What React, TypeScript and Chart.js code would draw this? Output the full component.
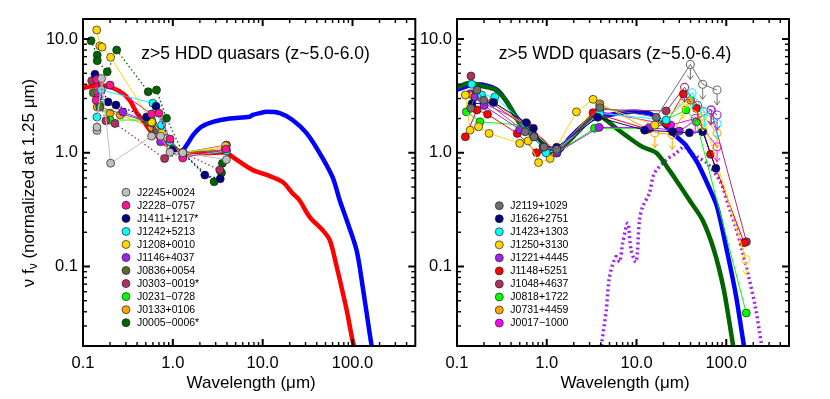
import { useEffect, useRef } from 'react';
import { Chart, registerables } from 'chart.js';

Chart.register(...registerables);

const FONT = '"Liberation Sans", Arial, Helvetica, sans-serif';

// ---- axes ----
const X_TICKS = [0.1, 1, 10, 100];
const X_TICK_LABELS = ['0.1', '1.0', '10.0', '100.0'];
const Y_TICKS = [0.1, 1, 10];
const Y_TICK_LABELS = ['0.1', '1.0', '10.0'];
const X_MIN = 0.1;
const X_MAX = 500;
const Y_MIN = 0.02;
const Y_MAX = 15;

// ---- left panel (HDD) models: [wavelength um, nu f_nu] ----
const HDD_RED_MODEL = [
  [0.1, 3.71], [0.12, 3.82], [0.155, 3.94], [0.215, 3.71], [0.28, 3.3], [0.33, 2.9], [0.4, 2.22],
  [0.47, 1.9], [0.555, 1.58], [0.66, 1.4], [0.86, 1.17], [1.1, 1.05], [1.25, 1.0], [2.0, 0.99],
  [3.0, 1.0], [3.97, 1.0], [4.65, 0.917], [7.74, 0.705], [11.1, 0.638], [16.7, 0.553], [21.5, 0.44],
  [25.6, 0.384], [33.4, 0.272], [46.4, 0.209], [55.8, 0.171], [66.8, 0.099], [86.1, 0.0414],
  [100, 0.0225], [108, 0.0184],
];
const HDD_BLUE_MODEL = [
  [1.25, 1.0], [1.47, 1.21], [1.68, 1.43], [2.07, 1.69], [2.8, 1.87], [4.3, 2.0], [7.17, 2.07],
  [7.74, 2.15], [9.3, 2.23], [11.1, 2.29], [15.5, 2.23], [21.5, 1.94], [30.8, 1.49], [43.1, 0.994],
  [60, 0.611], [71.9, 0.384], [86.1, 0.256], [111, 0.139], [130, 0.066], [155, 0.026], [166, 0.0184],
];

// ---- left panel quasars: [wavelength, value, upperLimit] ----
const J2245_0024 = [[0.143, 1.57], [0.143, 1.68], [0.161, 4.5], [0.203, 0.81], [0.58, 1.4], [0.73, 1.4], [0.93, 1.01], [1.29, 1.0], [3.95, 0.87]];
const J2228_0757 = [[0.142, 4.4], [0.14, 2.9], [0.2, 3.94], [0.58, 2.19], [0.7, 2.23], [0.93, 1.32], [1.29, 0.9], [3.9, 1.08]];
const J1411_1217 = [[0.136, 4.9], [0.19, 2.8], [0.233, 2.63], [0.51, 2.06], [0.65, 2.57], [1.0, 1.06], [1.29, 1.0], [2.27, 0.636], [3.37, 0.59]];
const J1242_5213 = [[0.143, 2.06], [0.16, 3.56], [0.6, 2.73], [0.75, 1.75], [0.93, 1.25], [1.29, 0.92], [3.95, 1.035]];
const J1208_0010 = [[0.142, 12.0], [0.154, 8.7], [0.163, 8.5], [0.203, 6.9], [0.58, 1.86], [0.75, 1.49], [0.95, 1.1], [1.29, 1.0], [3.86, 1.15]];
const J1146_4037 = [[0.148, 3.1], [0.278, 2.28], [0.594, 1.82], [0.73, 1.25], [1.29, 1.0], [3.95, 1.17]];
const J0836_0054 = [[0.13, 3.37], [0.154, 2.52], [0.53, 1.87], [0.66, 1.58], [1.29, 1.0], [3.86, 1.055]];
const J0303_0019 = [[0.125, 4.3], [0.18, 1.91], [0.227, 1.81], [0.81, 0.89], [1.29, 1.0], [3.33, 0.705]];
const J0231_0728 = [[0.154, 2.63], [0.2, 1.94], [0.58, 1.94], [0.72, 1.58], [1.29, 1.0], [3.95, 1.055]];
const J0133_0106 = [[0.144, 2.52], [0.2, 2.23], [0.26, 2.15], [0.58, 1.68], [0.66, 1.49], [1.29, 1.0], [3.86, 1.1]];
const J0005_0006 = [[0.123, 9.66], [0.144, 7.23], [0.144, 6.45], [0.186, 5.15], [0.237, 8.0], [0.532, 3.44], [0.658, 3.56], [0.85, 2.01], [1.29, 1.0], [2.88, 0.556], [3.48, 0.667], [3.56, 0.807]];

// ---- right panel (WDD) models ----
const WDD_GREEN_MODEL = [
  [0.1, 3.76], [0.14, 4.13], [0.188, 3.86], [0.264, 3.6], [0.324, 3.11], [0.388, 2.54], [0.5, 1.81],
  [0.647, 1.48], [0.91, 1.25], [1.18, 1.0], [1.52, 1.13], [2.14, 1.48], [3.0, 1.94], [3.7, 2.12],
  [4.6, 1.94], [5.9, 1.65], [8.3, 1.35], [11.6, 1.13], [16.6, 1.0], [23.3, 0.7], [30.1, 0.52],
  [38.8, 0.384], [54.4, 0.256], [73, 0.139], [93, 0.065], [110, 0.03], [120, 0.0195],
];
const WDD_BLUE_MODEL = [
  [0.1, 3.6], [0.165, 4.0], [0.276, 3.6], [0.36, 2.8], [0.45, 2.1], [0.55, 1.75], [0.8, 1.3],
  [1.1, 1.03], [1.3, 1.0], [1.5, 1.1], [1.8, 1.35], [3.0, 1.93], [5.0, 2.15], [9.1, 2.29],
  [13.9, 2.22], [18, 1.94], [25, 1.49], [31, 1.29], [35, 1.18], [38.8, 1.05], [48, 0.81], [64, 0.5],
  [79, 0.335], [99.5, 0.149], [127, 0.058], [158, 0.0196],
];
const WDD_PURPLE_MODEL = [
  [4.05, 0.02], [4.6, 0.041], [5.0, 0.081], [5.9, 0.122], [6.5, 0.11], [7.0, 0.16], [8.0, 0.24],
  [8.7, 0.14], [9.9, 0.11], [10.8, 0.256], [11.7, 0.335], [13.9, 0.44], [15.8, 0.66], [21.3, 0.86],
  [27.5, 0.99], [34, 1.13], [38.8, 1.02], [50, 0.9], [62, 0.8], [87.5, 0.54], [107, 0.335],
  [127, 0.224], [150, 0.139], [178, 0.081], [211, 0.044], [246, 0.021], [255, 0.018],
];

// ---- right panel quasars: [wavelength, value, upperLimit(1)] ----
const J2119_1029 = [[0.142, 2.46], [0.167, 3.56], [0.198, 2.9], [0.575, 1.53], [0.72, 1.38], [0.93, 1.12], [1.29, 1.07], [3.9, 2.5], [16.6, 2.05], [39.8, 5.98, 1], [54.6, 4.0, 1], [79, 3.56, 1]];
const J1626_2751 = [[0.147, 2.7], [0.256, 2.77], [0.59, 1.84], [0.71, 1.64], [0.91, 1.13], [1.29, 1.12], [3.7, 2.05], [12.3, 1.58], [25.3, 1.53], [38.8, 1.5], [54.6, 1.53], [76.6, 0.73]];
const J1423_1303 = [[0.146, 4.0], [0.188, 3.22], [0.264, 3.1], [0.57, 1.79], [0.72, 1.38], [0.98, 1.0], [1.29, 1.05], [3.9, 2.22], [21.4, 1.94], [41.5, 3.37, 1], [57, 2.29, 1], [79, 1.81, 1]];
const J1250_3130 = [[0.124, 3.22], [0.14, 1.58], [0.174, 1.69], [0.228, 1.48], [0.5, 1.21], [0.62, 1.27], [0.81, 0.82], [1.09, 0.89], [2.14, 2.29], [3.28, 2.95], [3.9, 2.6], [16, 1.75], [33, 2.7, 1], [55, 2.1, 1], [165, 0.115, 1]];
const J1221_4445 = [[0.158, 3.1], [0.2, 2.6], [0.5, 1.6], [0.72, 1.4], [1.0, 1.05], [1.29, 1.0], [3.83, 1.67], [14, 1.67], [30, 1.55], [68, 2.38, 1], [79, 2.15, 1]];
const J1148_5251 = [[0.124, 1.38], [0.167, 2.38], [0.219, 2.18], [0.47, 1.48], [0.77, 1.0], [1.29, 1.0], [3.28, 2.25], [13.3, 1.61], [21.4, 1.81], [33.3, 3.28], [46.4, 2.46], [66.8, 0.97], [158, 0.162]];
const J1048_4637 = [[0.143, 4.73], [0.165, 3.4], [0.57, 1.7], [0.93, 1.1], [1.29, 1.0], [3.9, 2.4], [21.4, 2.33], [34.3, 3.76, 1], [48, 2.6, 1], [67.6, 2.38, 1], [168, 0.165]];
const J0818_1722 = [[0.127, 2.29], [0.18, 1.87], [0.55, 1.75], [0.95, 1.05], [1.29, 1.0], [3.4, 1.64], [14, 1.64], [35.6, 2.38], [46.4, 1.87], [167, 0.039]];
const J0731_4459 = [[0.15, 3.2], [0.25, 2.8], [0.6, 1.7], [1.29, 1.0], [3.9, 2.7], [16, 1.5, 1], [25, 1.45, 1], [40, 2.9], [79, 1.48, 1]];
const J0017_1000 = [[0.14, 3.3], [0.2, 2.7], [0.6, 1.8], [1.29, 1.0], [3.9, 2.3], [24, 1.75], [45, 2.0, 1], [79, 1.13, 1]];

type Series = { name: string; color: string; pts: number[][]; dotted?: boolean };
type Model = { color: string; pts: number[][]; dotted?: boolean; width: number };

const HDD_SERIES: Series[] = [
  { name: 'J2245+0024', color: '#bebebe', pts: J2245_0024 },
  { name: 'J2228\u22120757', color: '#ff1493', pts: J2228_0757 },
  { name: 'J1411+1217*', color: '#000080', pts: J1411_1217, dotted: true },
  { name: 'J1242+5213', color: '#00ffff', pts: J1242_5213 },
  { name: 'J1208+0010', color: '#ffd700', pts: J1208_0010 },
  { name: 'J1146+4037', color: '#a020f0', pts: J1146_4037 },
  { name: 'J0836+0054', color: '#556b2f', pts: J0836_0054 },
  { name: 'J0303\u22120019*', color: '#b03060', pts: J0303_0019, dotted: true },
  { name: 'J0231\u22120728', color: '#00ff00', pts: J0231_0728 },
  { name: 'J0133+0106', color: '#ffa500', pts: J0133_0106 },
  { name: 'J0005\u22120006*', color: '#006400', pts: J0005_0006, dotted: true },
];
const HDD_MODELS: Model[] = [
  { color: '#ff0000', pts: HDD_RED_MODEL, width: 4.5 },
  { color: '#0000ff', pts: HDD_BLUE_MODEL, width: 4.5 },
];

const WDD_SERIES: Series[] = [
  { name: 'J2119+1029', color: '#6e6e6e', pts: J2119_1029 },
  { name: 'J1626+2751', color: '#000080', pts: J1626_2751 },
  { name: 'J1423+1303', color: '#00ffff', pts: J1423_1303 },
  { name: 'J1250+3130', color: '#ffd700', pts: J1250_3130 },
  { name: 'J1221+4445', color: '#a020f0', pts: J1221_4445 },
  { name: 'J1148+5251', color: '#ff0000', pts: J1148_5251 },
  { name: 'J1048+4637', color: '#b03060', pts: J1048_4637 },
  { name: 'J0818+1722', color: '#00ff00', pts: J0818_1722 },
  { name: 'J0731+4459', color: '#ffa500', pts: J0731_4459 },
  { name: 'J0017\u22121000', color: '#ff00ff', pts: J0017_1000 },
];
const WDD_MODELS: Model[] = [
  { color: '#006400', pts: WDD_GREEN_MODEL, width: 4.5 },
  { color: '#0000ff', pts: WDD_BLUE_MODEL, width: 4.5 },
  { color: '#a020f0', pts: WDD_PURPLE_MODEL, width: 3.5, dotted: true },
];

type PanelProps = {
  left: number;
  width: number;
  axisWidth: number;
  padRight: number;
  title: string;
  titleX: number;
  models: Model[];
  series: Series[];
  legendX: number;
  legendY: number;
  yTitle: boolean;
};

function Panel(p: PanelProps) {
  const ref = useRef<HTMLCanvasElement>(null);
  useEffect(() => {
    const off = p.left;
    const datasets: any[] = [];
    p.series.forEach((s, i) => {
      datasets.push({
        data: s.pts.map((q) => ({ x: q[0], y: q[1], ul: q[2] === 1 })),
        showLine: true,
        borderColor: s.color,
        borderWidth: s.dotted ? 1.3 : 1,
        borderDash: s.dotted ? [1.5, 2.5] : [],
        pointRadius: 4,
        pointBorderWidth: (c: any) => (c.raw && c.raw.ul ? 1.1 : 0.7),
        pointBackgroundColor: (c: any) => (c.raw && c.raw.ul ? 'rgba(255,255,255,0)' : s.color),
        pointBorderColor: (c: any) => (c.raw && c.raw.ul ? s.color : '#222'),
        order: i,
      });
    });
    p.models.forEach((m, i) => {
      datasets.push({
        data: m.pts.map((q) => ({ x: q[0], y: q[1] })),
        showLine: true,
        borderColor: m.color,
        borderWidth: m.width,
        borderDash: m.dotted ? [2, 3] : [],
        pointRadius: 0,
        tension: 0.3,
        clip: 0,
        order: 100 + i,
      });
    });

    const framePlugin = {
      id: 'frame',
      afterDatasetsDraw(chart: any) {
        const { ctx, chartArea: a, scales } = chart;
        const xs = scales.x;
        const ys = scales.y;
        ctx.save();
        // upper limit arrows
        chart.data.datasets.forEach((ds: any, di: number) => {
          const meta = chart.getDatasetMeta(di);
          meta.data.forEach((el: any, k: number) => {
            const raw = ds.data[k];
            if (!raw || !raw.ul) return;
            ctx.strokeStyle = ds.borderColor;
            ctx.lineWidth = 1;
            ctx.setLineDash([]);
            ctx.beginPath();
            ctx.moveTo(el.x, el.y + 4);
            ctx.lineTo(el.x, el.y + 15);
            ctx.moveTo(el.x - 3, el.y + 11);
            ctx.lineTo(el.x, el.y + 15);
            ctx.lineTo(el.x + 3, el.y + 11);
            ctx.stroke();
          });
        });
        ctx.strokeStyle = '#000';
        ctx.setLineDash([]);
        const line = (x1: number, y1: number, x2: number, y2: number, w: number) => {
          ctx.lineWidth = w;
          ctx.beginPath();
          ctx.moveTo(x1, y1);
          ctx.lineTo(x2, y2);
          ctx.stroke();
        };
        for (let e = -1; e <= 2; e++) {
          for (let m = 1; m <= 9; m++) {
            const v = m * Math.pow(10, e);
            if (v <= X_MIN * 1.0001 || v >= X_MAX * 0.999) continue;
            const px = xs.getPixelForValue(v);
            const L = m === 1 ? 7 : 4;
            const w = m === 1 ? 2 : 1.4;
            line(px, a.bottom, px, a.bottom - L, w);
            line(px, a.top, px, a.top + L, w);
          }
        }
        for (let e = -2; e <= 1; e++) {
          for (let m = 1; m <= 9; m++) {
            const v = m * Math.pow(10, e);
            if (v <= Y_MIN * 1.0001 || v >= Y_MAX * 0.999) continue;
            const py = ys.getPixelForValue(v);
            const L = m === 1 ? 7 : 4;
            const w = m === 1 ? 2 : 1.4;
            line(a.left, py, a.left + L, py, w);
            line(a.right, py, a.right - L, py, w);
          }
        }
        ctx.lineWidth = 2;
        ctx.strokeRect(a.left, a.top, a.right - a.left, a.bottom - a.top);
        ctx.restore();
      },
      afterDraw(chart: any) {
        const { ctx, chartArea: a } = chart;
        ctx.save();
        ctx.fillStyle = '#000';
        ctx.textBaseline = 'middle';
        // panel title
        ctx.font = `17.5px ${FONT}`;
        ctx.textAlign = 'center';
        ctx.fillText(p.title, p.titleX - off, 54);
        // x title
        ctx.font = `17px ${FONT}`;
        ctx.fillText('Wavelength (\u03bcm)', (a.left + a.right) / 2 + 2, 383);
        // y title
        if (p.yTitle) {
          ctx.save();
          ctx.translate(29 - off, 183);
          ctx.rotate(-Math.PI / 2);
          const big = `17px ${FONT}`;
          const small = `12px ${FONT}`;
          const s1 = '\u03bd f';
          const s2 = '\u03bd';
          const s3 = ' (normalized at 1.25 \u03bcm)';
          ctx.font = big;
          const w1 = ctx.measureText(s1).width;
          const w3 = ctx.measureText(s3).width;
          ctx.font = small;
          const w2 = ctx.measureText(s2).width;
          const x0 = -(w1 + w2 + w3) / 2;
          ctx.textAlign = 'left';
          ctx.font = big;
          ctx.fillText(s1, x0, 0);
          ctx.font = small;
          ctx.fillText(s2, x0 + w1, 5);
          ctx.font = big;
          ctx.fillText(s3, x0 + w1 + w2, 0);
          ctx.restore();
        }
        // legend
        ctx.textAlign = 'left';
        ctx.font = `10.5px ${FONT}`;
        p.series.forEach((s, i) => {
          const y = p.legendY + i * 13.04;
          const x = p.legendX - off;
          ctx.beginPath();
          ctx.arc(x, y, 4, 0, Math.PI * 2);
          ctx.fillStyle = s.color;
          ctx.fill();
          ctx.lineWidth = 0.7;
          ctx.strokeStyle = '#222';
          ctx.stroke();
          ctx.fillStyle = '#000';
          ctx.fillText(s.name, x + 11, y + 0.5);
        });
        ctx.restore();
      },
    };

    const chart = new Chart(ref.current as HTMLCanvasElement, {
      type: 'scatter',
      data: { datasets },
      options: {
        responsive: false,
        animation: false,
        events: [],
        layout: { padding: { top: 19, right: p.padRight, bottom: 0, left: 0 } },
        plugins: { legend: { display: false }, tooltip: { enabled: false } },
        scales: {
          x: {
            type: 'logarithmic',
            min: X_MIN,
            max: X_MAX,
            position: 'bottom',
            grid: { display: false, drawTicks: false },
            border: { display: false },
            afterBuildTicks: (s: any) => {
              s.ticks = X_TICKS.map((v) => ({ value: v }));
            },
            afterFit: (s: any) => {
              s.height = 53;
            },
            ticks: {
              autoSkip: false,
              maxRotation: 0,
              padding: 8,
              color: '#000',
              font: { family: FONT, size: 16.5 },
              callback: (v: any) => {
                const i = X_TICKS.indexOf(Number(v));
                return i >= 0 ? X_TICK_LABELS[i] : '';
              },
            },
          },
          y: {
            type: 'logarithmic',
            min: Y_MIN,
            max: Y_MAX,
            position: 'left',
            grid: { display: false, drawTicks: false },
            border: { display: false },
            afterBuildTicks: (s: any) => {
              s.ticks = Y_TICKS.map((v) => ({ value: v }));
            },
            afterFit: (s: any) => {
              s.width = p.axisWidth;
            },
            ticks: {
              autoSkip: false,
              padding: 5,
              color: '#000',
              font: { family: FONT, size: 16.5 },
              callback: (v: any) => {
                const i = Y_TICKS.indexOf(Number(v));
                return i >= 0 ? Y_TICK_LABELS[i] : '';
              },
            },
          },
        },
      } as any,
      plugins: [framePlugin],
    } as any);
    return () => chart.destroy();
  }, []);
  return (
    <canvas
      ref={ref}
      width={p.width}
      height={399}
      style={{ position: 'absolute', left: p.left, top: 0, width: p.width, height: 399 }}
    />
  );
}

export default function App() {
  return (
    <div style={{ position: 'absolute', left: 0, top: 0, width: 830, height: 399, background: '#fff', overflow: 'hidden' }}>
      <Panel
        left={0}
        width={420}
        axisWidth={83}
        padRight={4}
        title="z>5 HDD quasars (z~5.0-6.0)"
        titleX={255.5}
        models={HDD_MODELS}
        series={HDD_SERIES}
        legendX={126}
        legendY={192.3}
        yTitle={true}
      />
      <Panel
        left={410}
        width={420}
        axisWidth={47}
        padRight={41}
        title="z>5 WDD quasars (z~5.0-6.4)"
        titleX={615}
        models={WDD_MODELS}
        series={WDD_SERIES}
        legendX={499.3}
        legendY={205.7}
        yTitle={false}
      />
    </div>
  );
}
